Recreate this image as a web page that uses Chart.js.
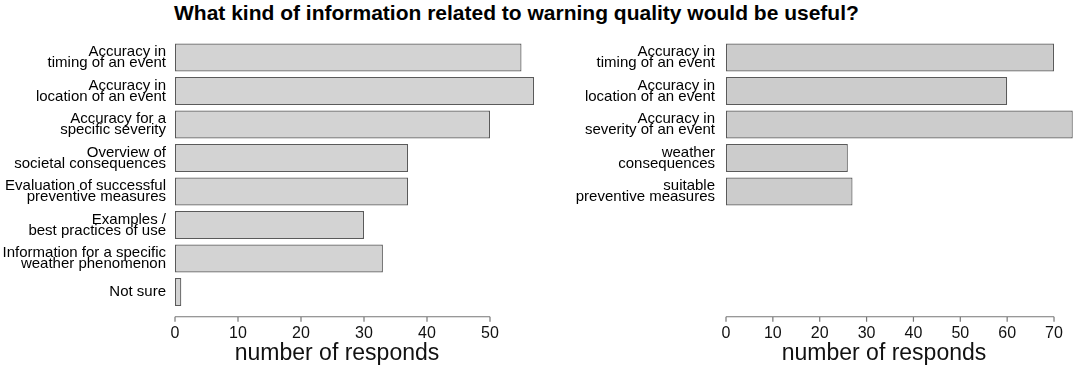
<!DOCTYPE html>
<html lang="en">
<head>
  <meta charset="UTF-8">
  <title>Warning quality</title>
  <script src="https://cdn.jsdelivr.net/npm/chart.js"></script>
  <style>
    body {
      margin: 0;
      background: #fff;
      font-family: "Liberation Sans", Arial, sans-serif;
    }
    #page {
      position: relative;
      width: 1080px;
      height: 368px;
      overflow: hidden;
    }
    h1 {
      position: absolute;
      left: 174px;
      top: 2px;
      margin: 0;
      font-size: 21px;
      line-height: 21px;
      font-weight: bold;
      white-space: nowrap;
      color: #000;
    }
    .box {
      position: absolute;
      top: 0;
      width: 540px;
      height: 368px;
    }
  </style>
</head>
<body>
  <div id="page">
    <h1>What kind of information related to warning quality would be useful?</h1>
    <div class="box" style="left:0"><canvas id="leftChart"></canvas></div>
    <div class="box" style="left:540px"><canvas id="rightChart"></canvas></div>
  </div>

  <script>
    // left panel
    var leftLabels = [
      ['Accuracy in', 'timing of an event'],
      ['Accuracy in', 'location of an event'],
      ['Accuracy for a', 'specific severity'],
      ['Overview of', 'societal consequences'],
      ['Evaluation of successful', 'preventive measures'],
      ['Examples /', 'best practices of use'],
      ['Information for a specific', 'weather phenomenon'],
      'Not sure'
    ];
    var leftValues = [55, 57, 50, 37, 37, 30, 33, 1];
    var leftTicks = [0, 10, 20, 30, 40, 50];

    // right panel (same row slots as the left one, last three empty)
    var rightLabels = [
      ['Accuracy in', 'timing of an event'],
      ['Accuracy in', 'location of an event'],
      ['Accuracy in', 'severity of an event'],
      ['weather', 'consequences'],
      ['suitable', 'preventive measures'],
      '', '', ''
    ];
    var rightValues = [70, 60, 74, 26, 27];
    var rightTicks = [0, 10, 20, 30, 40, 50, 60, 70];

    var xTitle = 'number of responds';
    var FONT = '"Liberation Sans", Arial, sans-serif';

    // R style axis: detached line under the bars, ticks pointing down
    var rAxis = {
      id: 'rAxis',
      afterDraw: function (chart, args, opts) {
        var ctx = chart.ctx;
        var xs = chart.scales.x;
        var ticks = opts.ticks;
        var y = chart.chartArea.bottom + 8;
        ctx.save();
        ctx.strokeStyle = '#777';
        ctx.lineWidth = 1.2;
        ctx.beginPath();
        ctx.moveTo(xs.getPixelForValue(ticks[0]), y);
        ctx.lineTo(xs.getPixelForValue(ticks[ticks.length - 1]), y);
        ticks.forEach(function (t) {
          var px = xs.getPixelForValue(t);
          ctx.moveTo(px, y);
          ctx.lineTo(px, y + 5);
        });
        ctx.stroke();
        ctx.fillStyle = '#111';
        ctx.font = '23px ' + FONT;
        ctx.textAlign = 'center';
        ctx.textBaseline = 'alphabetic';
        ctx.fillText(opts.title, opts.titleX, 360);
        ctx.restore();
      }
    };

    function makeChart(id, labels, values, ticks, xMax, yWidth, fill, titleX) {
      var ctx = document.getElementById(id).getContext('2d');
      return new Chart(ctx, {
        type: 'bar',
        data: {
          labels: labels,
          datasets: [{
            data: values,
            backgroundColor: fill,
            borderColor: '#5a5a5a',
            borderWidth: 1.2,
            borderSkipped: false,
            barPercentage: 0.84,
            categoryPercentage: 1
          }]
        },
        options: {
          indexAxis: 'y',
          responsive: true,
          maintainAspectRatio: false,
          animation: false,
          layout: { padding: { top: 40.75, left: 0, right: 0, bottom: 0 } },
          plugins: {
            legend: { display: false },
            tooltip: { enabled: false },
            rAxis: { ticks: ticks, title: xTitle, titleX: titleX }
          },
          scales: {
            x: {
              min: 0,
              max: xMax,
              grid: { display: false, drawTicks: false },
              border: { display: false },
              afterBuildTicks: function (scale) {
                scale.ticks = ticks.map(function (v) { return { value: v }; });
              },
              afterFit: function (scale) { scale.height = 368 - 308.75; },
              ticks: {
                color: '#111',
                padding: 15,
                maxRotation: 0,
                autoSkip: false,
                font: { family: FONT, size: 16 }
              }
            },
            y: {
              grid: { display: false, drawTicks: false },
              border: { display: false },
              afterFit: function (scale) { scale.width = yWidth; },
              ticks: {
                color: '#000',
                padding: yWidth === 175 ? 9 : 11,
                autoSkip: false,
                font: { family: FONT, size: 15, lineHeight: 0.74 }
              }
            }
          }
        },
        plugins: [rAxis]
      });
    }

    makeChart('leftChart', leftLabels, leftValues, leftTicks, 365 / 6.3, 175, '#d3d3d3', 337);
    makeChart('rightChart', rightLabels, rightValues, rightTicks, 354 / 4.686, 186, '#cccccc', 344);
  </script>
</body>
</html>
